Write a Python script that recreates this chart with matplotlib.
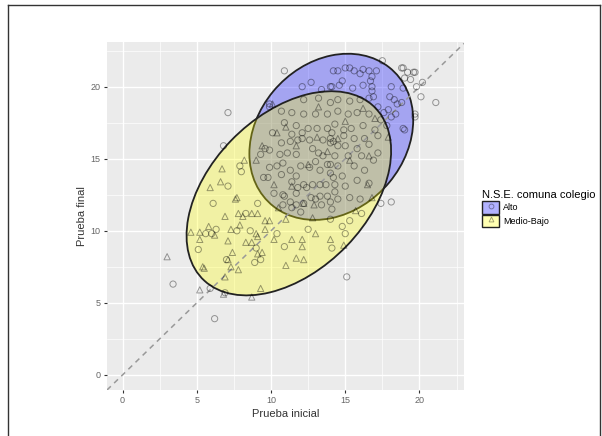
import matplotlib
matplotlib.use("Agg")
import matplotlib.pyplot as plt
from matplotlib.patches import Ellipse, Patch
from matplotlib.lines import Line2D
from matplotlib.legend_handler import HandlerTuple

plt.rcParams["font.family"] = ["Liberation Sans", "DejaVu Sans"]

# --- data ---
groups = ["Alto", "Medio-Bajo"]
legend_title = "N.S.E. comuna colegio"

alto_inicial = [
    10.9, 7.1, 6.8, 3.4, 6.2, 15.1, 17.4, 18.1, 21.1, 20.1, 20.2, 18.9, 19.7, 19.4, 19.7, 19.0,
    14.5, 15.0, 15.3, 15.6, 16.0, 16.2, 16.6, 17.1, 16.8, 16.7, 16.8, 16.8, 16.9, 14.2, 14.1, 14.6,
    14.8, 15.5, 16.2, 18.1, 18.0, 18.3, 18.5, 18.8, 17.9, 18.1, 18.4, 18.9, 17.5, 18.8, 19.2, 19.6,
    19.8, 19.0, 19.7, 18.9, 12.1, 12.7, 13.4, 14.0, 9.9,
    12.2, 13.2, 14.0, 14.5, 15.3, 16.0, 16.6, 17.2, 17.6, 9.9, 10.7, 11.4, 12.2, 13.0, 13.8, 14.5,
    15.2, 15.8, 16.6, 17.4, 17.8, 10.9, 11.7, 12.5, 13.1, 13.8, 14.3, 14.9, 15.4, 16.2, 17.0, 10.1,
    11.4, 12.1, 14.1, 14.9, 15.6, 16.3, 17.2,
    10.7, 11.3, 11.8, 12.1, 12.6, 13.5, 14.0, 14.2, 9.6, 9.9, 9.3, 10.6, 11.1, 11.7, 12.8, 13.2,
    13.5, 13.0, 10.8, 10.4, 12.0, 12.6, 11.3, 13.3, 14.0, 9.9, 9.5, 9.8, 10.7, 11.7, 11.4, 12.2,
    11.8, 12.4, 12.8, 13.3, 13.7, 14.2, 14.3, 10.8, 11.3, 11.7, 12.7, 13.3, 13.4, 14.0, 14.1, 10.8,
    10.2, 12.0,
    14.0, 14.5, 15.0, 15.8, 16.6, 17.2, 14.3, 15.2, 16.1, 16.9, 13.8, 14.5, 15.6, 16.3, 14.0, 14.8,
    15.8, 16.6, 14.3, 15.0, 14.5, 15.3, 16.0, 13.0, 13.8, 12.2, 11.7, 10.9, 11.4,
    8.0, 7.1, 6.1, 9.1, 8.3, 7.7, 8.6, 5.6, 5.1, 9.3, 8.9, 5.9, 6.9, 10.4, 10.9, 12.5,
    14.1, 14.8, 15.0, 15.3, 16.1, 14.0, 9.0, 6.0, 6.3, 7.0, 7.9,
]
alto_final = [
    21.1, 18.2, 15.9, 6.3, 3.9, 6.8, 11.9, 12.0, 18.9, 19.3, 20.3, 21.3, 21.0, 20.5, 17.9, 17.0,
    21.1, 21.3, 21.3, 21.1, 20.9, 21.2, 21.1, 21.1, 20.7, 20.4, 20.0, 19.7, 19.3, 21.1, 20.0, 20.1,
    20.4, 19.9, 20.1, 20.0, 19.3, 19.1, 18.8, 18.9, 18.4, 17.9, 18.1, 19.9, 21.8, 21.3, 21.0, 21.0,
    20.0, 20.6, 18.1, 17.1, 20.0, 20.3, 19.8, 20.0, 18.8,
    19.1, 19.2, 18.9, 19.1, 19.0, 19.1, 19.2, 18.6, 18.2, 18.6, 18.3, 18.2, 18.1, 18.1, 18.1, 18.3,
    18.1, 18.2, 18.1, 17.7, 17.3, 17.5, 17.3, 17.1, 17.1, 17.1, 17.4, 17.0, 17.1, 17.3, 17.0, 16.8,
    16.7, 16.8, 16.8, 16.6, 16.4, 16.4, 16.6,
    16.1, 16.2, 16.3, 16.4, 16.3, 16.3, 16.4, 16.2, 15.7, 15.6, 15.3, 15.3, 15.4, 15.3, 15.7, 15.4,
    15.2, 14.8, 14.7, 14.5, 14.5, 14.4, 14.2, 14.2, 14.6, 14.4, 13.7, 13.7, 13.9, 13.8, 13.4, 13.2,
    13.0, 13.0, 13.2, 13.2, 13.2, 13.7, 12.7, 12.5, 12.0, 11.8, 12.3, 12.4, 11.8, 12.0, 11.5, 11.8,
    12.6, 11.3,
    16.1, 15.9, 15.9, 15.7, 16.0, 15.4, 15.2, 15.2, 15.2, 14.9, 14.6, 14.5, 14.5, 14.2, 14.0, 13.8,
    13.5, 13.3, 13.2, 13.1, 12.2, 12.3, 12.2, 12.2, 12.4, 11.9, 12.6, 12.4, 11.6,
    14.1, 13.1, 11.9, 11.9, 11.2, 10.0, 10.0, 9.8, 8.7, 8.0, 7.8, 6.0, 5.7, 9.8, 8.9, 10.1,
    8.8, 10.3, 9.8, 10.7, 11.2, 10.8, 8.8, 9.8, 10.1, 8.0, 14.5,
]

medio_inicial = [
    3.0, 5.2, 6.8, 8.7, 5.4, 6.7, 6.6, 5.9, 7.7, 9.1, 6.9, 9.6, 8.1, 7.9, 5.8, 4.6,
    6.2, 5.2, 7.1, 9.0, 8.7, 7.1, 7.8, 9.1, 5.5, 6.9, 9.3, 9.9, 9.6, 10.2, 11.0, 11.7,
    12.2, 11.4, 12.1, 12.1, 13.0, 14.0, 14.9, 11.0, 9.1, 9.4, 7.8, 8.7, 7.6, 8.2,
    5.2, 7.3, 8.3, 7.4, 7.3, 10.5, 12.8, 15.7, 16.8,
    10.1, 13.2, 15.3, 11.4, 12.2, 12.9, 16.5, 9.4, 10.4, 11.7, 16.6, 9.0, 12.5, 13.1,
    15.0, 16.2, 17.0, 10.2, 13.8, 11.0, 14.5, 17.9,
]
medio_final = [
    8.2, 5.9, 5.6, 5.4, 7.5, 14.3, 13.4, 13.0, 12.3, 11.2, 11.0, 10.7, 11.0, 10.4, 10.3, 9.9,
    9.7, 9.4, 9.3, 9.8, 9.2, 8.0, 7.3, 8.4, 7.4, 6.8, 6.0, 10.7, 10.1, 9.4, 7.6, 8.1,
    8.0, 9.4, 9.4, 8.9, 9.8, 9.4, 9.0, 10.8, 9.6, 8.5, 11.2, 11.2, 12.2, 14.9,
    9.9, 10.1, 9.2, 8.5, 7.5, 11.6, 10.9, 11.4, 12.3,
    18.8, 18.6, 14.9, 13.1, 11.9, 11.8, 13.2, 15.9, 16.8, 15.9, 15.2, 14.9, 14.6, 16.5,
    17.6, 18.5, 17.8, 13.2, 15.5, 17.2, 16.4, 16.5,
]

# 95% ellipses (centre x, centre y, width, height, angle)
ellipse_alto = (14.06, 16.52, 12.4, 10.05, 51.1)
ellipse_medio = (11.2, 12.6, 16.63, 10.68, 46.9)

fill_colors = [(0, 0, 1, 0.3), (1, 1, 0, 0.3)]
markers = ["o", "^"]

fig = plt.figure(figsize=(6.02, 4.36), dpi=100)
ax = fig.add_axes([107 / 602, 1 - 390 / 436, 357 / 602, 348 / 436])
ax.set_facecolor("#EBEBEB")

# grid like ggplot
ax.set_xticks([0, 5, 10, 15, 20])
ax.set_yticks([0, 5, 10, 15, 20])
ax.set_xticks([2.5, 7.5, 12.5, 17.5, 22.5], minor=True)
ax.set_yticks([2.5, 7.5, 12.5, 17.5, 22.5], minor=True)
ax.grid(which="major", color="white", lw=1.0)
ax.grid(which="minor", color="white", lw=0.5)
ax.set_axisbelow(True)
for s in ax.spines.values():
    s.set_visible(False)
ax.tick_params(which="major", length=2.5, width=0.8, color="#333333",
               labelsize=6.5, labelcolor="#666666", pad=2)
ax.tick_params(which="minor", length=0)

ax.set_xlim(-1.05, 23.0)
ax.set_ylim(-1.05, 23.1)

for i, el in enumerate([ellipse_alto, ellipse_medio]):
    cx, cy, w, h, ang = el
    ax.add_patch(Ellipse((cx, cy), w, h, angle=ang, facecolor=fill_colors[i],
                         edgecolor="#222222", lw=1.3, zorder=2))

ax.axline((0, 0), slope=1, color="#999999", lw=1.1, ls=(0, (3.5, 3)), zorder=3)

ax.scatter(alto_inicial, alto_final, marker="o", s=20, facecolors="none",
           edgecolors=(0, 0, 0, 0.38), linewidths=0.7, zorder=4)
ax.scatter(medio_inicial, medio_final, marker="^", s=20, facecolors="none",
           edgecolors=(0, 0, 0, 0.38), linewidths=0.7, zorder=4)

ax.set_xlabel("Prueba inicial", fontsize=8, color="#333333", labelpad=3)
ax.set_ylabel("Prueba final", fontsize=8, color="#333333", labelpad=3)

handles = []
for i in range(2):
    patch = Patch(facecolor=fill_colors[i], edgecolor="#222222", lw=1.0)
    pt = Line2D([], [], marker=markers[i], ls="none", ms=3.5, mfc="none",
                mec=(0, 0, 0, 0.4), mew=0.6)
    handles.append((patch, pt))

leg = fig.legend(handles, groups, title=legend_title, loc="upper left",
                 bbox_to_anchor=(482 / 602, 1 - 190 / 436), frameon=False,
                 handler_map={tuple: HandlerTuple(ndivide=1, pad=0)},
                 handlelength=1.9, handleheight=1.8, handletextpad=0.4,
                 labelspacing=0.1, fontsize=6.5, title_fontsize=8,
                 alignment="left", borderaxespad=0, borderpad=0)

# thin frame around the picture
fig.add_artist(Line2D([8 / 602, 8 / 602], [0, 1 - 5 / 436], color="#333333", lw=1.0))
fig.add_artist(Line2D([8 / 602, 600 / 602], [1 - 5 / 436, 1 - 5 / 436], color="#333333", lw=1.0))
fig.add_artist(Line2D([600 / 602, 600 / 602], [0, 1 - 5 / 436], color="#333333", lw=1.0))

fig.savefig("out.png", dpi=100)
